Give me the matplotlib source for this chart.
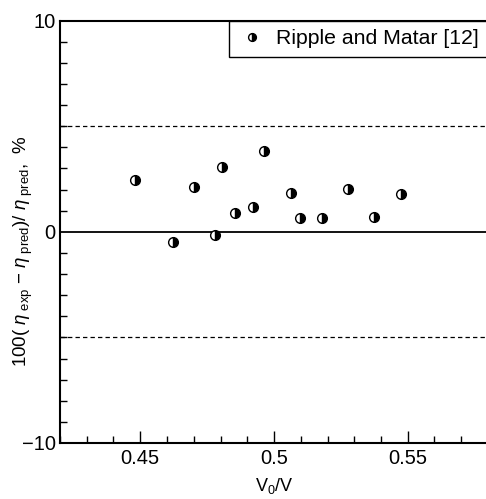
import matplotlib
matplotlib.use("Agg")
import matplotlib.pyplot as plt
import numpy as np
from matplotlib.ticker import MultipleLocator

plt.rcParams['font.family'] = ['Liberation Sans', 'DejaVu Sans']
plt.rcParams['mathtext.fontset'] = 'custom'
plt.rcParams['mathtext.rm'] = 'Liberation Sans'
plt.rcParams['mathtext.it'] = 'Liberation Sans:italic'

# Ripple and Matar [12] deviations
v_ratio = [0.4481, 0.4624, 0.4701, 0.4780, 0.4805, 0.4856, 0.4923,
           0.4964, 0.5063, 0.5098, 0.5181, 0.5277, 0.5373, 0.5476]
deviation = [2.46, -0.49, 2.14, -0.17, 3.06, 0.88, 1.17,
             3.84, 1.83, 0.66, 0.63, 2.02, 0.72, 1.78]

fig = plt.figure(figsize=(4.86, 4.99), dpi=100)
ax = fig.add_axes([60/486, 1 - 443/499, 428/486, 422.5/499])

ax.axhline(0, color='black', lw=1.3)
ax.axhline(5, color='black', lw=0.9, ls=(0, (3.5, 2.5)))
ax.axhline(-5, color='black', lw=0.9, ls=(0, (3.5, 2.5)))

ax.plot(v_ratio, deviation, ls='none', marker='o', ms=7, fillstyle='right',
        markerfacecolor='black', markerfacecoloralt='white',
        markeredgecolor='black', markeredgewidth=1.0,
        label='Ripple and Matar [12]')

ax.set_xlim(0.42, 0.58)
ax.set_ylim(-10, 10)
ax.xaxis.set_minor_locator(MultipleLocator(0.01))
ax.yaxis.set_minor_locator(MultipleLocator(1))
ax.set_xticks([0.45, 0.5, 0.55])
ax.set_xticklabels(['0.45', '0.5', '0.55'])
ax.set_yticks([-10, 0, 10])
ax.set_yticklabels(['\u221210', '0', '10'])

ax.tick_params(which='both', direction='in', labelsize=14.5, width=1.0)
ax.tick_params(which='major', length=9, pad=4)
ax.tick_params(which='minor', length=5)
ax.tick_params(axis='y', which='major', length=0, pad=3)

for s in ax.spines.values():
    s.set_linewidth(1.5)

ax.set_xlabel(r'V$_{\rm 0}$/V', fontsize=13, labelpad=6)
ax.set_ylabel(r'100( $\eta_{\rm\ exp}$ $-$ $\eta_{\rm\ pred}$)/ $\eta_{\rm\ pred}$,  %',
              fontsize=13.5)
ax.yaxis.set_label_coords(-0.058, 0.455)

x0 = (229 - 60) / 428
leg = ax.legend(loc='upper left', bbox_to_anchor=(x0, 0, 1 - x0, 1.0),
                mode='expand', borderaxespad=0,
                fontsize=15.3, fancybox=False, framealpha=1, edgecolor='black',
                handletextpad=0.42, borderpad=0.4, handlelength=1.4,
                markerscale=0.8)
leg.get_frame().set_linewidth(1.0)

fig.savefig('out.png', dpi=100)
